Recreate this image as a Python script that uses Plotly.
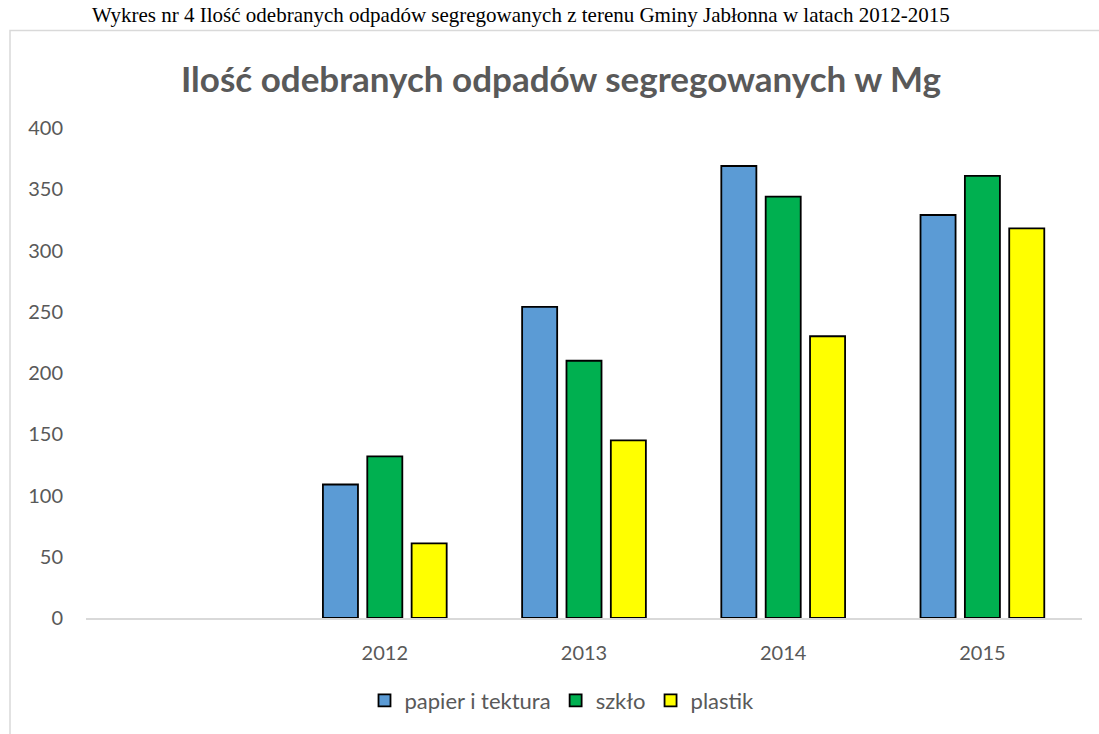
import plotly.graph_objects as go

categories = ["2012", "2013", "2014", "2015"]
papier = [109, 254, 369, 329]
szklo = [132, 210, 344, 361]
plastik = [61, 145, 230, 318]
series_names = ["papier i tektura", "szkło", "plastik"]
colors = ["#5B9BD5", "#00B050", "#FFFF00"]
y_ticks = [0, 50, 100, 150, 200, 250, 300, 350, 400]

W, H = 1099, 734
OFF = 0  # body margin removed via post_script
# target plot area on screen: x 86..1082, y 128..619
SX0, SX1, SY0, SY1 = 86, 1082, 128, 620
L = SX0 - OFF
T = SY0 - OFF
R = W + OFF - SX1
B = H + OFF - SY1
pw, ph = SX1 - SX0, SY1 - SY0

def px_x(x):
    return (x - SX0) / pw

def px_y(y):
    return (SY1 - y) / ph

fig = go.Figure()
for name, vals, col in zip(series_names, [papier, szklo, plastik], colors):
    fig.add_trace(go.Bar(
        x=categories, y=vals, name=name,
        marker=dict(color=col, line=dict(color="#000000", width=1.8)),
    ))

txt = "#595959"
fig.update_layout(
    width=W, height=H,
    margin=dict(l=L, r=R, t=T, b=B),
    paper_bgcolor="white", plot_bgcolor="white",
    barmode="group", bargap=0.332, bargroupgap=0.21,
    font=dict(family="Lato", size=20, color=txt),
    showlegend=True,
    legend=dict(orientation="h", x=px_x(562), xanchor="center",
                y=px_y(703), yanchor="middle",
                font=dict(family="Lato", size=22, color=txt),
                itemwidth=30, tracegroupgap=0),
    xaxis=dict(type="category", categoryarray=categories, categoryorder="array",
               range=[-1.5, 3.5], showgrid=False, showline=True,
               linecolor="#D9D9D9", linewidth=1.5, ticks="",
               ticklabelstandoff=16, tickfont=dict(size=20, color=txt),
               fixedrange=True),
    yaxis=dict(range=[0, 400], tickvals=y_ticks, showgrid=False,
               zeroline=False, showline=False, ticks="",
               ticklabelstandoff=22, tickfont=dict(size=20, color=txt),
               fixedrange=True),
    shapes=[dict(type="rect", xref="paper", yref="paper",
                 x0=px_x(10), x1=px_x(1130), y0=px_y(760), y1=px_y(30),
                 line=dict(color="#D9D9D9", width=1.5), fillcolor="rgba(0,0,0,0)",
                 layer="below")],
    annotations=[
        dict(text="Ilość odebranych odpadów segregowanych w Mg", xref="paper", yref="paper",
             x=px_x(561), y=px_y(78), xanchor="center", yanchor="middle", showarrow=False,
             font=dict(family="Lato", size=35, color=txt, weight="bold")),
        dict(text="Wykres nr 4 Ilość odebranych odpadów segregowanych z terenu Gminy Jabłonna w latach 2012-2015",
             xref="paper", yref="paper",
             x=px_x(521), y=px_y(15), xanchor="center", yanchor="middle", showarrow=False,
             font=dict(family="Liberation Serif", size=21, color="#000000")),
    ],
)

fig.write_html("out.html",
               config={"displayModeBar": False},
               post_script="document.body.style.margin='0';document.body.style.overflow='hidden';")
